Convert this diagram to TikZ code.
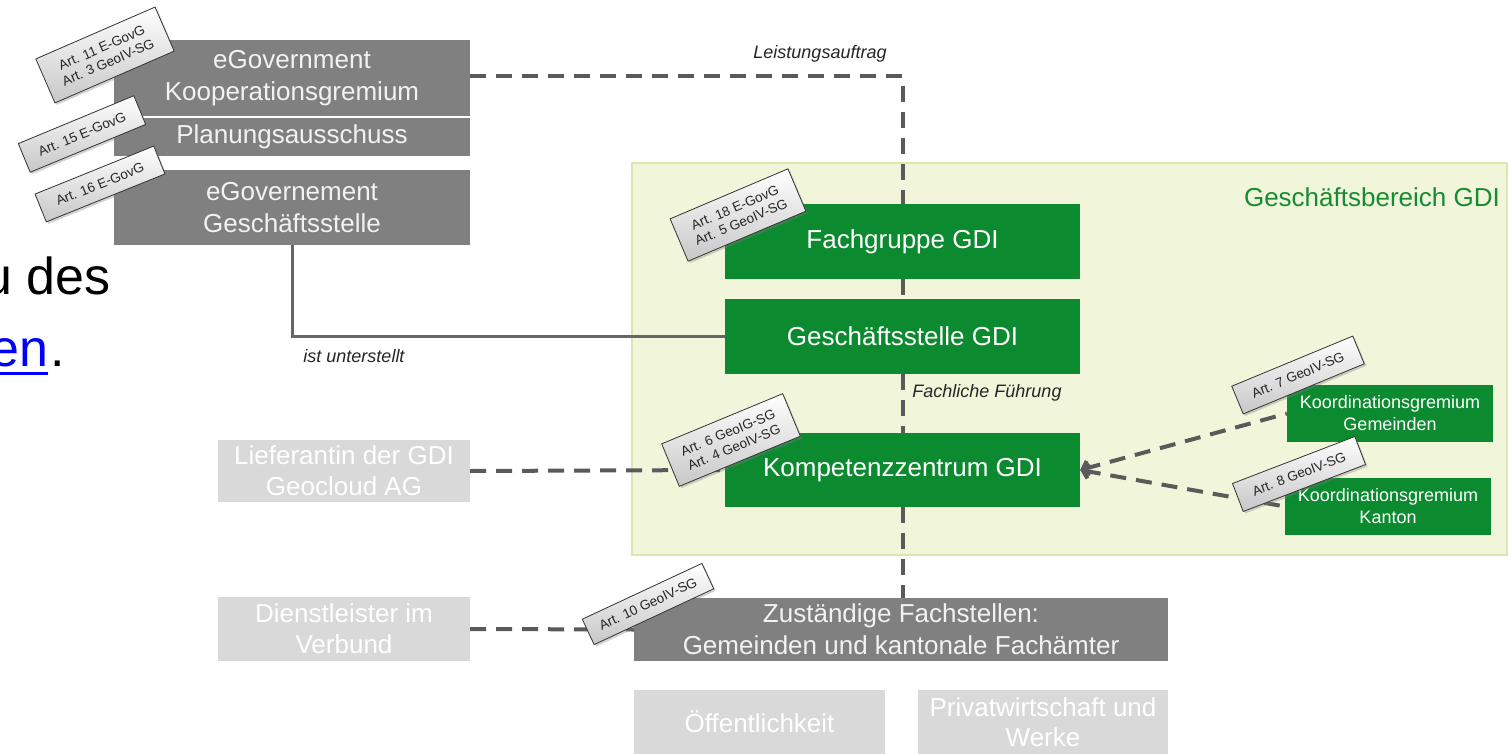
\documentclass[tikz,border=0pt]{standalone}
\usepackage{fontspec}
\setmainfont{Liberation Sans}
\usetikzlibrary{arrows.meta,shadows}
\definecolor{dgray}{RGB}{128,128,128}
\definecolor{lgray}{RGB}{217,217,217}
\definecolor{gdigreen}{RGB}{12,138,48}
\definecolor{regionfill}{RGB}{241,246,219}
\definecolor{regionline}{RGB}{218,232,176}
\definecolor{linegray}{RGB}{90,90,90}
\definecolor{boxtext}{RGB}{242,242,242}
\definecolor{labelgreen}{RGB}{22,140,50}
\begin{document}
\begin{tikzpicture}[x=1pt,y=-1pt,
  wh/.style 2 args={minimum width=#1pt, minimum height=#2pt},
  darkbox/.style={rectangle, inner sep=0pt, align=center, fill=dgray, text=boxtext, font=\fontsize{26}{32}\selectfont},
  lightbox/.style={rectangle, inner sep=0pt, align=center, fill=lgray, text=white, font=\fontsize{26}{31}\selectfont},
  greenbox/.style={rectangle, inner sep=0pt, align=center, fill=gdigreen, text=white, font=\fontsize{26}{32}\selectfont},
  smallgreen/.style={greenbox, font=\fontsize{18}{22}\selectfont},
  tag/.style={rectangle, inner sep=0pt, align=center, draw=black!80, line width=0.8pt,
     top color=white, bottom color=black!22, text=black!85,
     font=\fontsize{13.5}{16}\selectfont,
     drop shadow={shadow xshift=2pt, shadow yshift=-2pt, opacity=0.35}},
  dashline/.style={draw=linegray, line width=4pt, dash pattern=on 16pt off 10pt},
  solidline/.style={draw=black!60, line width=3pt},
  note/.style={font=\fontsize{18}{22}\selectfont\itshape, text=black!85, inner sep=0pt}
]
\useasboundingbox (0,0) rectangle (1509,754);
\fill[white] (0,0) rectangle (1509,754);

% surrounding page text
\node[anchor=base east, inner sep=0pt, font=\fontsize{52}{60}\selectfont] (udes) at (111,294) {u des};
\node[anchor=base east, inner sep=0pt, font=\fontsize{52}{60}\selectfont] (dot) at (65,366) {.};
\node[anchor=base east, inner sep=0pt, font=\fontsize{52}{60}\selectfont, text=blue] (en) at ([xshift=-2pt]dot.base west) {en};
\draw[blue, line width=3pt] ([yshift=-7pt]en.base west) -- ([yshift=-7pt]en.base east);

% region
\draw[fill=regionfill, draw=regionline, line width=1.5pt] (632,163) rectangle (1507,555);
\node[anchor=east, inner sep=0pt, text=labelgreen, font=\fontsize{26}{30}\selectfont] (region) at (1500,197) {Geschäftsbereich GDI};

% boxes
\node[darkbox, wh={356}{76}] (koop) at (292,78) {eGovernment\\Kooperationsgremium};
\node[darkbox, wh={356}{38}] (plan) at (292,137) {Planungsausschuss};
\node[darkbox, wh={356}{75}] (egs) at (292,207.5) {eGovernement\\Geschäftsstelle};

\node[greenbox, wh={355}{75}] (fach) at (902.5,241.5) {Fachgruppe GDI};
\node[greenbox, wh={355}{75}] (gsgdi) at (902.5,336.5) {Geschäftsstelle GDI};
\node[greenbox, wh={355}{74}] (komp) at (902.5,470) {Kompetenzzentrum GDI};
\node[smallgreen, wh={206}{57}] (kgem) at (1390,413.5) {Koordinationsgremium\\Gemeinden};
\node[smallgreen, wh={206}{57}] (kkan) at (1388,506.5) {Koordinationsgremium\\Kanton};

\node[lightbox, wh={252}{62}] (lief) at (344,471) {Lieferantin der GDI\\Geocloud AG};
\node[lightbox, wh={252}{64}] (dienst) at (344,629) {Dienstleister im\\Verbund};
\node[darkbox, wh={534}{63}] (zust) at (901,629.5) {Zuständige Fachstellen:\\Gemeinden und kantonale Fachämter};
\node[lightbox, wh={251}{64}] (oeff) at (759.5,722) {Öffentlichkeit};
\node[lightbox, wh={250}{64}, font=\fontsize{26}{30}\selectfont] (priv) at (1043,722) {Privatwirtschaft und\\Werke};

% connectors
\draw[dashline] (koop.east |- 0,76) -| (fach.north);
\draw[dashline] (fach.south) -- (gsgdi.north);
\draw[dashline] (gsgdi.south) -- (komp.north);
\draw[dashline] (komp.south) -- (komp.south |- zust.north);
\draw[solidline] (egs.south) |- (gsgdi.west);
\draw[dashline] (lief.east) -- (komp.west);
\draw[dashline] (dienst.east) -- (zust.west);
\draw[dashline, {Straight Barb[length=6pt,width=14pt]}-] (komp.east) -- (kgem.west);
\draw[dashline, {Straight Barb[length=6pt,width=14pt]}-] (komp.east) -- (kkan.west);

% connector labels
\node[note] (l1) at (820,54) {Leistungsauftrag};
\node[note] (l2) at (354,356) {ist unterstellt};
\node[note] (l3) at (987,393) {Fachliche Führung};

% tags
\node[tag, wh={130}{48}, rotate=23.5] (t1) at (105,55) {Art. 11 E-GovG\\Art. 3 GeoIV-SG};
\node[tag, wh={125}{31}, rotate=22.5] (t2) at (82,134) {Art. 15 E-GovG};
\node[tag, wh={128}{30}, rotate=22] (t3) at (100,184) {Art. 16 E-GovG};
\node[tag, wh={128}{46}, rotate=23] (t4) at (738,215) {Art. 18 E-GovG\\Art. 5 GeoIV-SG};
\node[tag, wh={131}{46}, rotate=22.5] (t5) at (731,440) {Art. 6 GeoIG-SG\\Art. 4 GeoIV-SG};
\node[tag, wh={131}{30}, rotate=22.5] (t6) at (1298,375) {Art. 7 GeoIV-SG};
\node[tag, wh={131}{30}, rotate=21] (t7) at (1299,474) {Art. 8 GeoIV-SG};
\node[tag, wh={132}{28}, rotate=25] (t8) at (648,604) {Art. 10 GeoIV-SG};
\end{tikzpicture}
\end{document}
